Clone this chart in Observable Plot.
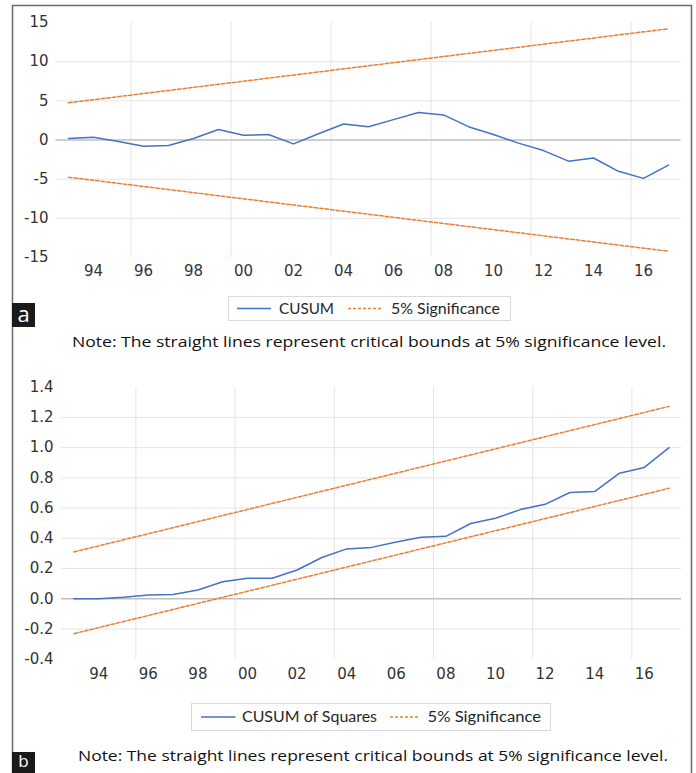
<!DOCTYPE html>
<html><head><meta charset="utf-8">
<script src="https://cdn.jsdelivr.net/npm/d3@7"></script>
<script src="https://cdn.jsdelivr.net/npm/@observablehq/plot@0.6"></script>
<style>
html,body{margin:0;padding:0;background:#fff;}
#wrap{position:relative;width:696px;height:773px;overflow:hidden;background:#fff;}
#wrap > svg{position:absolute;left:0;}
</style></head><body><div id="wrap"></div>
<script>
// ---- data ----
const years = [1993,1994,1995,1996,1997,1998,1999,2000,2001,2002,2003,2004,2005,2006,2007,2008,2009,2010,2011,2012,2013,2014,2015,2016,2017];
const cusum = [0.2,0.35,-0.2,-0.8,-0.7,0.2,1.35,0.6,0.7,-0.5,0.8,2.05,1.7,2.6,3.5,3.2,1.7,0.7,-0.4,-1.35,-2.7,-2.3,-4.0,-4.9,-3.2];
const boundYears = [1993, 2017];
const cusumUpper = [4.75, 14.2];
const cusumLower = [-4.75, -14.2];
const cusumSq = [0.0,0.0,0.01,0.025,0.028,0.058,0.113,0.136,0.136,0.19,0.273,0.33,0.34,0.376,0.407,0.413,0.498,0.533,0.59,0.625,0.703,0.709,0.831,0.869,1.0];
const sqUpper = [0.31, 1.273];
const sqLower = [-0.231, 0.731];
const xTicks = [1994,1996,1998,2000,2002,2004,2006,2008,2010,2012,2014,2016];
const xTickLabels = ["94","96","98","00","02","04","06","08","10","12","14","16"];
const yTicksA = [-15,-10,-5,0,5,10,15];
const yTicksB = [-0.4,-0.2,0.0,0.2,0.4,0.6,0.8,1.0,1.2,1.4];
const legendA = ["CUSUM","5% Significance"];
const legendB = ["CUSUM of Squares","5% Significance"];
const noteText = "Note: The straight lines represent critical bounds at 5% significance level.";

// ---- helpers ----
const BLUE = "#4472c4", ORANGE = "#ed7d31", GRID = "#e4e4e4";
const gridX = xTicks.filter((d,i)=>i%2===1).map(d=>d-0.5);
const pts = (xs, ys) => xs.map((x,i)=>({x, y:ys[i]}));
const xLabel = d => xTickLabels[xTicks.indexOf(d)];

function panel({top, height, mL, mR, mT, mB, yDomain, yTicks, yFmt, padX, padY, series, upper, lower}) {
  const inner = yTicks.slice(1, -1);
  const svg = Plot.plot({
    width: 696, height,
    marginLeft: mL, marginRight: mR, marginTop: mT, marginBottom: mB,
    style: {fontFamily: "DejaVu Sans", fontSize: "15px", color: "#333", background: "transparent", overflow: "visible"},
    x: {domain: [1992.5, 2017.5]},
    y: {domain: yDomain},
    marks: [
      Plot.ruleY(inner.filter(d => d !== 0), {stroke: GRID, strokeWidth: 1}),
      Plot.ruleX(gridX, {stroke: GRID, strokeWidth: 1}),
      Plot.ruleY([0], {stroke: "#bfbfbf", strokeWidth: 1.6}),
      Plot.line(pts(boundYears, upper), {x: "x", y: "y", stroke: ORANGE, strokeWidth: 1.5, strokeDasharray: "3.5,2"}),
      Plot.line(pts(boundYears, lower), {x: "x", y: "y", stroke: ORANGE, strokeWidth: 1.5, strokeDasharray: "3.5,2"}),
      Plot.line(pts(years, series), {x: "x", y: "y", stroke: BLUE, strokeWidth: 1.5}),
      Plot.axisX({ticks: xTicks, tickFormat: xLabel, tickSize: 0, tickPadding: padX, label: null, fill: "#333"}),
      Plot.axisY({ticks: yTicks, tickFormat: yFmt, tickSize: 0, tickPadding: padY, label: null, fill: "#333"})
    ]
  });
  svg.style.top = top + "px";
  return svg;
}

const wrap = document.getElementById("wrap");
wrap.appendChild(panel({
  top: 0, height: 290, mL: 55.5, mR: 15.5, mT: 22, mB: 33,
  yDomain: [-15, 15], yTicks: yTicksA, yFmt: d => String(d), padX: 8, padY: 7.5,
  series: cusum, upper: cusumUpper, lower: cusumLower
}));
wrap.appendChild(panel({
  top: 365, height: 320, mL: 61, mR: 15, mT: 21.7, mB: 26.3,
  yDomain: [-0.4, 1.4], yTicks: yTicksB, yFmt: d => d.toFixed(1), padX: 9, padY: 8,
  series: cusumSq, upper: sqUpper, lower: sqLower
}));

// ---- overlay: frame, panel labels, legends, notes ----
const ov = d3.select(wrap).append("svg")
  .attr("width", 696).attr("height", 773)
  .style("top", "0px").style("pointer-events", "none");

ov.append("path").attr("d", "M12.5,773 V5.5 H691.5 V773")
  .attr("fill", "none").attr("stroke", "#6b6b6b").attr("stroke-width", 1.5);

function tag(letter, y0, y1, fs, base) {
  ov.append("rect").attr("x", 12).attr("y", y0).attr("width", 23).attr("height", y1 - y0).attr("fill", "#1a1a1a");
  ov.append("text").attr("x", 23.5).attr("y", base)
    .attr("text-anchor", "middle").attr("fill", "#fff")
    .style("font-family", "Open Sans").style("font-size", fs + "px").text(letter);
}
tag("a", 303, 327, 22, 322);
tag("b", 752, 773, 17, 767);

function legend(box, items) {
  ov.append("rect").attr("x", box.x + 0.5).attr("y", box.y + 0.5).attr("width", box.w).attr("height", box.h)
    .attr("fill", "#fff").attr("stroke", "#d9d9d9");
  const cy = box.y + box.h / 2 + 0.5;
  items.forEach(it => {
    ov.append("line").attr("x1", it.l0).attr("x2", it.l1).attr("y1", cy).attr("y2", cy)
      .attr("stroke", it.color).attr("stroke-width", 1.5)
      .attr("stroke-dasharray", it.dash ? "3,2" : null);
    ov.append("text").attr("x", it.t0).attr("y", cy).attr("dy", "0.35em")
      .attr("textLength", it.tw).attr("lengthAdjust", "spacingAndGlyphs")
      .attr("fill", "#262626")
      .style("font-family", "Lato").style("font-size", "15.5px").text(it.text);
  });
}
legend({x: 228, y: 296, w: 282, h: 24}, [
  {text: legendA[0], color: BLUE, dash: false, l0: 237, l1: 271, t0: 279, tw: 55},
  {text: legendA[1], color: ORANGE, dash: true, l0: 348, l1: 383, t0: 391, tw: 109}
]);
legend({x: 191, y: 703, w: 359, h: 27}, [
  {text: legendB[0], color: BLUE, dash: false, l0: 201, l1: 235.5, t0: 242, tw: 135},
  {text: legendB[1], color: ORANGE, dash: true, l0: 390, l1: 420, t0: 427.5, tw: 113.5}
]);

function note(x, cy, w) {
  ov.append("text").attr("x", x).attr("y", cy).attr("dy", "0.36em")
    .attr("textLength", w).attr("lengthAdjust", "spacingAndGlyphs")
    .attr("fill", "#111")
    .style("font-family", "Open Sans").style("font-size", "15px").text(noteText);
}
note(72, 341.5, 594);
note(78, 755.5, 590);
</script>
</body></html>
